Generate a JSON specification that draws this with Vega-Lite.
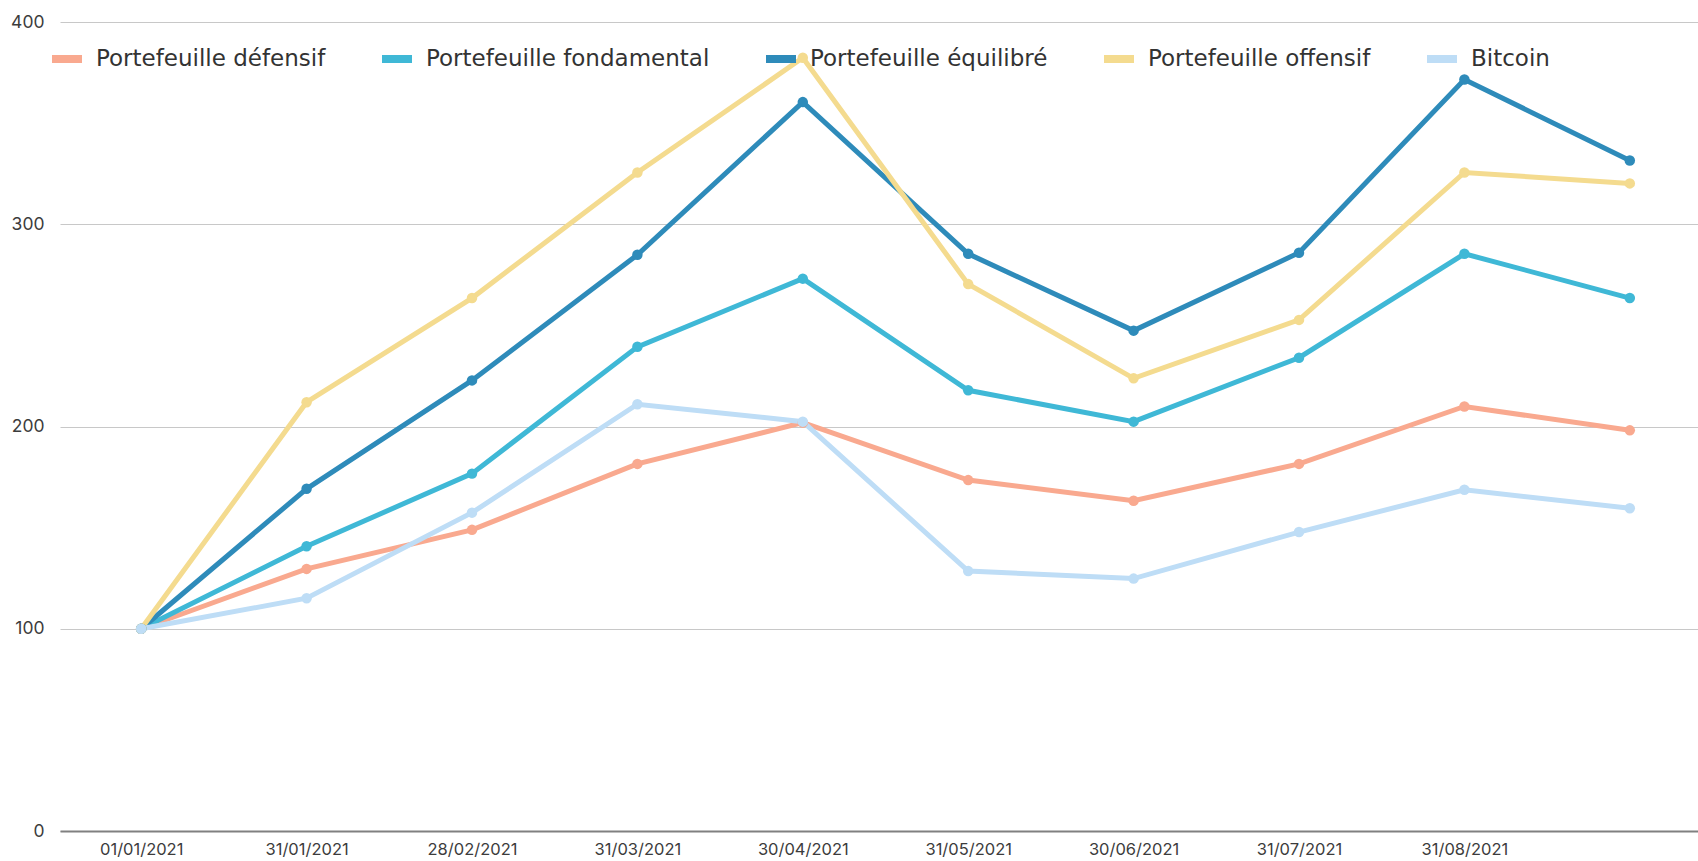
{
  "$schema": "https://vega.github.io/schema/vega-lite/v6.json",
  "autosize": "none",
  "width": 1638,
  "height": 809,
  "padding": {"left": 60, "top": 22, "right": 0, "bottom": 30},
  "background": "white",
  "config": {"view": {"stroke": null}, "font": "Inter"},
  "data": {"values": [
    {"date": "01/01/2021", "serie": "Portefeuille défensif", "v": 100},
    {"date": "31/01/2021", "serie": "Portefeuille défensif", "v": 129.6},
    {"date": "28/02/2021", "serie": "Portefeuille défensif", "v": 148.9},
    {"date": "31/03/2021", "serie": "Portefeuille défensif", "v": 181.5},
    {"date": "30/04/2021", "serie": "Portefeuille défensif", "v": 201.9},
    {"date": "31/05/2021", "serie": "Portefeuille défensif", "v": 173.5},
    {"date": "30/06/2021", "serie": "Portefeuille défensif", "v": 163.3},
    {"date": "31/07/2021", "serie": "Portefeuille défensif", "v": 181.5},
    {"date": "31/08/2021", "serie": "Portefeuille défensif", "v": 209.9},
    {"date": "30/09/2021", "serie": "Portefeuille défensif", "v": 198.1},
    {"date": "01/01/2021", "serie": "Portefeuille fondamental", "v": 100},
    {"date": "31/01/2021", "serie": "Portefeuille fondamental", "v": 140.8},
    {"date": "28/02/2021", "serie": "Portefeuille fondamental", "v": 176.7},
    {"date": "31/03/2021", "serie": "Portefeuille fondamental", "v": 239.4},
    {"date": "30/04/2021", "serie": "Portefeuille fondamental", "v": 273.1},
    {"date": "31/05/2021", "serie": "Portefeuille fondamental", "v": 217.9},
    {"date": "30/06/2021", "serie": "Portefeuille fondamental", "v": 202.4},
    {"date": "31/07/2021", "serie": "Portefeuille fondamental", "v": 234},
    {"date": "31/08/2021", "serie": "Portefeuille fondamental", "v": 285.4},
    {"date": "30/09/2021", "serie": "Portefeuille fondamental", "v": 263.5},
    {"date": "01/01/2021", "serie": "Portefeuille équilibré", "v": 100},
    {"date": "31/01/2021", "serie": "Portefeuille équilibré", "v": 169.2},
    {"date": "28/02/2021", "serie": "Portefeuille équilibré", "v": 222.8},
    {"date": "31/03/2021", "serie": "Portefeuille équilibré", "v": 284.9},
    {"date": "30/04/2021", "serie": "Portefeuille équilibré", "v": 360.4},
    {"date": "31/05/2021", "serie": "Portefeuille équilibré", "v": 285.4},
    {"date": "30/06/2021", "serie": "Portefeuille équilibré", "v": 247.4},
    {"date": "31/07/2021", "serie": "Portefeuille équilibré", "v": 285.9},
    {"date": "31/08/2021", "serie": "Portefeuille équilibré", "v": 371.6},
    {"date": "30/09/2021", "serie": "Portefeuille équilibré", "v": 331.5},
    {"date": "01/01/2021", "serie": "Portefeuille offensif", "v": 100},
    {"date": "31/01/2021", "serie": "Portefeuille offensif", "v": 212},
    {"date": "28/02/2021", "serie": "Portefeuille offensif", "v": 263.5},
    {"date": "31/03/2021", "serie": "Portefeuille offensif", "v": 325.6},
    {"date": "30/04/2021", "serie": "Portefeuille offensif", "v": 382.3},
    {"date": "31/05/2021", "serie": "Portefeuille offensif", "v": 270.4},
    {"date": "30/06/2021", "serie": "Portefeuille offensif", "v": 223.8},
    {"date": "31/07/2021", "serie": "Portefeuille offensif", "v": 252.7},
    {"date": "31/08/2021", "serie": "Portefeuille offensif", "v": 325.6},
    {"date": "30/09/2021", "serie": "Portefeuille offensif", "v": 320.2},
    {"date": "01/01/2021", "serie": "Bitcoin", "v": 100},
    {"date": "31/01/2021", "serie": "Bitcoin", "v": 115.1},
    {"date": "28/02/2021", "serie": "Bitcoin", "v": 157.4},
    {"date": "31/03/2021", "serie": "Bitcoin", "v": 211},
    {"date": "30/04/2021", "serie": "Bitcoin", "v": 202.4},
    {"date": "31/05/2021", "serie": "Bitcoin", "v": 128.5},
    {"date": "30/06/2021", "serie": "Bitcoin", "v": 124.8},
    {"date": "31/07/2021", "serie": "Bitcoin", "v": 147.8},
    {"date": "31/08/2021", "serie": "Bitcoin", "v": 168.7},
    {"date": "30/09/2021", "serie": "Bitcoin", "v": 159.6}
  ]},
  "mark": {"type": "line", "strokeWidth": 5, "point": {"filled": true, "size": 110, "opacity": 1}},
  "encoding": {
    "x": {
      "field": "date", "type": "ordinal", "sort": null,
      "scale": {"type": "point", "padding": 0.4516, "align": 0.5435},
      "axis": {
        "title": null,
        "values": ["01/01/2021", "31/01/2021", "28/02/2021", "31/03/2021", "30/04/2021", "31/05/2021", "30/06/2021", "31/07/2021", "31/08/2021"],
        "labelAngle": 0, "labelFontSize": 16.5, "labelColor": "#3c3c3c", "labelPadding": 10,
        "ticks": false, "domainColor": "#808080", "domainWidth": 2, "grid": false
      }
    },
    "y": {
      "field": "v", "type": "quantitative",
      "scale": {"domain": [0, 400]},
      "axis": {
        "title": null, "values": [0, 100, 200, 300, 400],
        "labelFontSize": 17.5, "labelColor": "#3c3c3c", "labelPadding": 16,
        "ticks": false, "domain": false, "gridColor": "#c8c8c8", "gridWidth": 1
      }
    },
    "color": {
      "field": "serie", "type": "nominal",
      "scale": {
        "domain": ["Portefeuille défensif", "Portefeuille fondamental", "Portefeuille équilibré", "Portefeuille offensif", "Bitcoin"],
        "range": ["#F9A98F", "#3FB8D6", "#2E8BBA", "#F4DB8F", "#BEDDF6"]
      },
      "legend": {
        "title": null, "orient": "none", "legendX": -12, "legendY": 18,
        "direction": "horizontal", "columns": 5, "columnPadding": 40,
        "symbolType": "stroke", "symbolSize": 900, "symbolStrokeWidth": 8,
        "labelFont": "DejaVu Sans", "labelFontSize": 23, "labelColor": "#333", "labelOffset": 10, "labelLimit": 0, "padding": 0
      }
    }
  }
}
